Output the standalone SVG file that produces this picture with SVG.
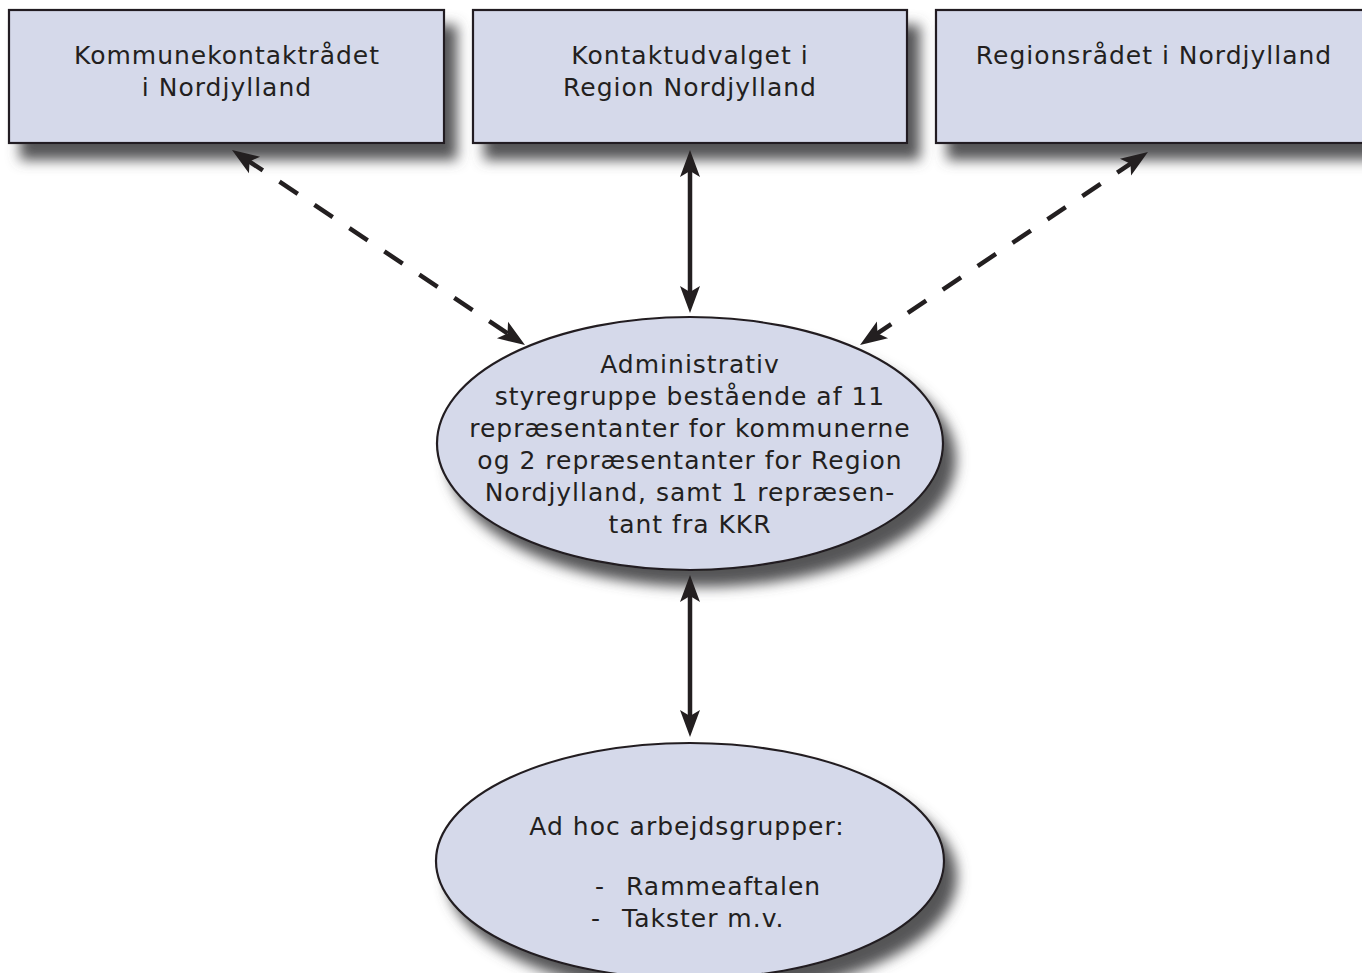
<svg xmlns="http://www.w3.org/2000/svg" width="1362" height="973" viewBox="0 0 1362 973">
<style>
.box{fill:#d5d9ea;stroke:#231f20;stroke-width:2.2}
.ell{fill:#d5d9ea;stroke:#231f20;stroke-width:2.2}
.t{font-family:"DejaVu Sans","Liberation Sans",sans-serif;font-size:25px;letter-spacing:1px;fill:#231f20;text-anchor:middle}
.ts{font-family:"DejaVu Sans","Liberation Sans",sans-serif;font-size:25px;letter-spacing:1px;fill:#231f20}
.c{fill:none;stroke:#231f20;stroke-width:4.5}
.d{stroke-dasharray:22 20}
</style>
<defs>
<filter id="sh" x="-10%" y="-15%" width="130%" height="160%">
<feGaussianBlur in="SourceAlpha" stdDeviation="6.5"/>
<feOffset dx="12" dy="16" result="b"/>
<feFlood flood-color="#555557" flood-opacity="1"/>
<feComposite in2="b" operator="in"/>
<feMerge><feMergeNode/><feMergeNode in="SourceGraphic"/></feMerge>
</filter>
<marker id="ah" viewBox="-14 -11 30 22" refX="0" refY="0" markerWidth="30" markerHeight="22" markerUnits="userSpaceOnUse" orient="auto-start-reverse">
<path d="M15,0 L-12,-10 L-6,0 L-12,10 Z" fill="#231f20"/>
</marker>
</defs>
<g id="node-kkr">
<rect class="box" x="9" y="10" width="435" height="133" filter="url(#sh)"/>
<text class="t" x="227" y="64">Kommunekontaktrådet</text>
<text class="t" x="227" y="96">i Nordjylland</text>
</g>
<g id="node-kontaktudvalget">
<rect class="box" x="473" y="10" width="434" height="133" filter="url(#sh)"/>
<text class="t" x="690" y="64">Kontaktudvalget i</text>
<text class="t" x="690" y="96">Region Nordjylland</text>
</g>
<g id="node-regionsraadet">
<rect class="box" x="936" y="10" width="440" height="133" filter="url(#sh)"/>
<text class="t" x="1154" y="64">Regionsrådet i Nordjylland</text>
</g>
<g id="node-styregruppe">
<ellipse class="ell" cx="690" cy="443.5" rx="253" ry="126.5" filter="url(#sh)"/>
<text class="t" x="690" y="373">Administrativ</text>
<text class="t" x="690" y="405">styregruppe bestående af 11</text>
<text class="t" x="690" y="437">repræsentanter for kommunerne</text>
<text class="t" x="690" y="469">og 2 repræsentanter for Region</text>
<text class="t" x="690" y="501">Nordjylland, samt 1 repræsen-</text>
<text class="t" x="690" y="533">tant fra KKR</text>
</g>
<g id="node-adhoc">
<ellipse class="ell" cx="690" cy="861" rx="254" ry="118" filter="url(#sh)"/>
<text class="t" x="687" y="835">Ad hoc arbejdsgrupper:</text>
<text class="ts" x="595" y="895">-</text>
<text class="ts" x="626" y="895">Rammeaftalen</text>
<text class="ts" x="591" y="927">-</text>
<text class="ts" x="622" y="927">Takster m.v.</text>
</g>
<g id="connectors">
<path class="c" d="M690,165 L690,298" marker-start="url(#ah)" marker-end="url(#ah)"/>
<path class="c" d="M690,590 L690,722" marker-start="url(#ah)" marker-end="url(#ah)"/>
<path class="c d" d="M244.5,158.3 L512.5,336.7" marker-start="url(#ah)" marker-end="url(#ah)"/>
<path class="c d" d="M1135.5,160.4 L872.5,336.6" marker-start="url(#ah)" marker-end="url(#ah)"/>
</g>
</svg>
